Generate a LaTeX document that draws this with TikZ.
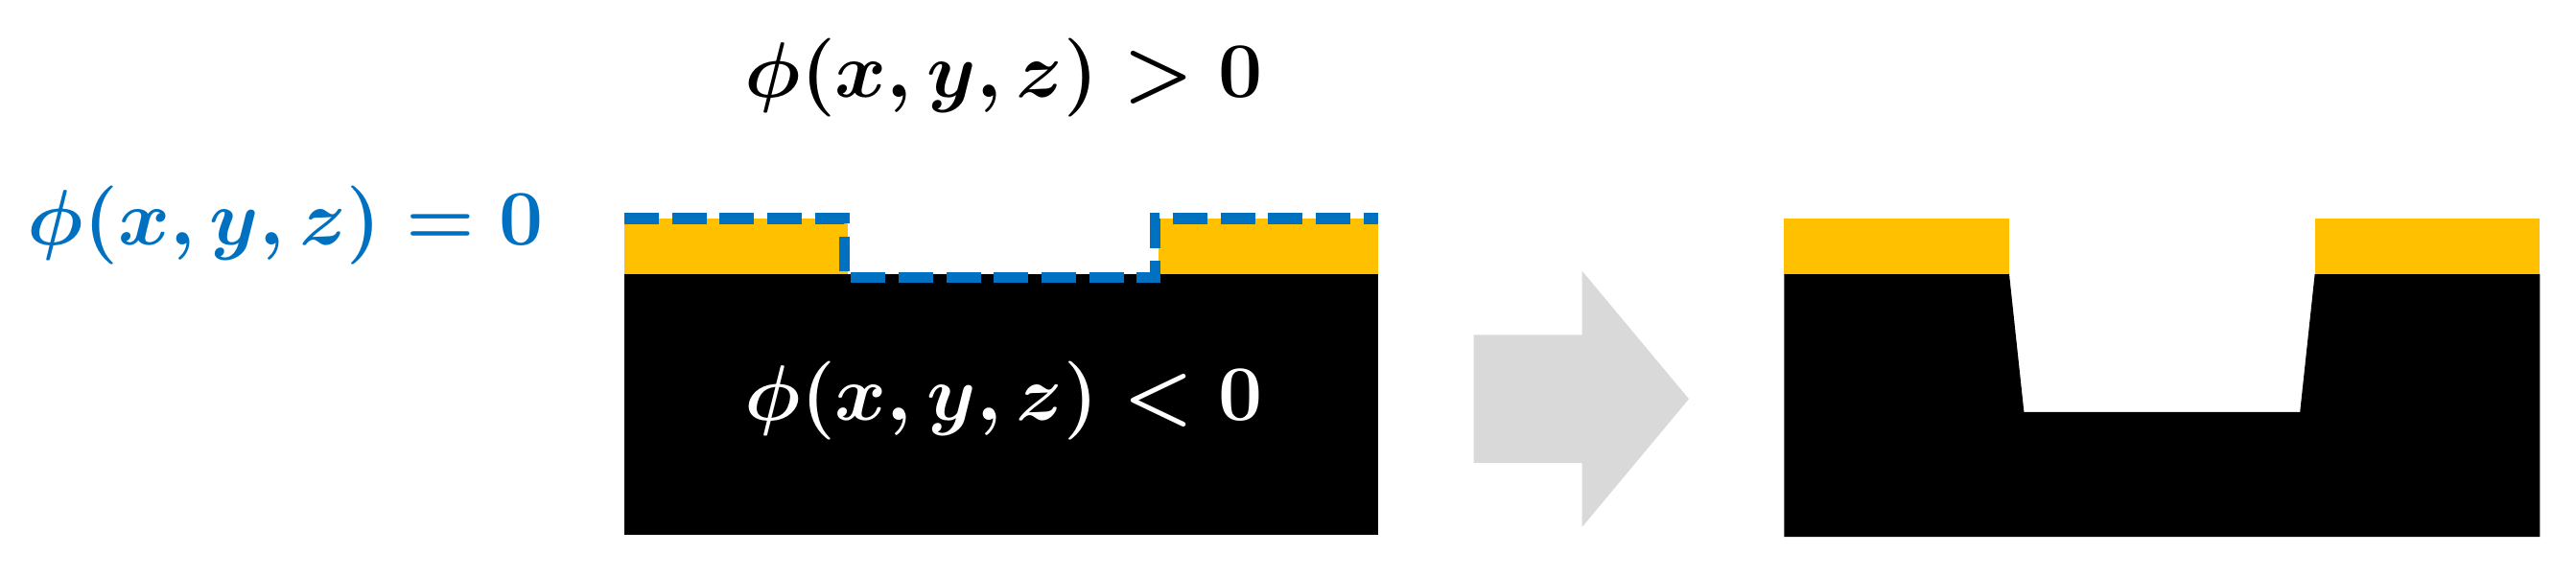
\documentclass[tikz,border=0pt]{standalone}
\usepackage{amsmath,amssymb}
\usepackage{tikz}
\usepackage{xcolor}
\definecolor{filmgold}{HTML}{FFC000}
\definecolor{levelblue}{HTML}{0070C0}
\definecolor{arrowgray}{HTML}{D9D9D9}
\tikzset{phitext/.style={font=\fontsize{14.4}{16}\selectfont\boldmath,scale=0.945}}

\begin{document}
\begin{tikzpicture}[x=0.1mm,y=-0.1mm,line cap=butt]
\useasboundingbox (0,0) rectangle (1568,351);
\fill[filmgold] (380,133) rectangle (516,167);
\fill[filmgold] (705,133) rectangle (839,167);
\fill[black] (380,167) rectangle (839,326);
\draw[levelblue,line width=1.9pt,dash pattern=on 2.1mm off 0.8mm] (380,133) -- (514,133) -- (514,169) -- (703,169) -- (703,133) -- (839,133);
\node[phitext] (outside) at (611,47) {$\phi(x,y,z) > 0$};
\node[phitext,text=levelblue] (surface) at (174,137) {$\phi(x,y,z) = 0$};
\node[phitext,text=white] (inside) at (611,244) {$\phi(x,y,z) < 0$};
\fill[arrowgray] (897,204) -- (963,204) -- (963,165) -- (1028,243) -- (963,321) -- (963,282) -- (897,282) -- cycle;
\fill[filmgold] (1086,133) rectangle (1223,167);
\fill[filmgold] (1409,133) rectangle (1546,167);
\fill[black] (1086,167) -- (1223,167) -- (1232,251) -- (1400,251) -- (1409,167) -- (1546,167) -- (1546,327) -- (1086,327) -- cycle;
\end{tikzpicture}
\end{document}
